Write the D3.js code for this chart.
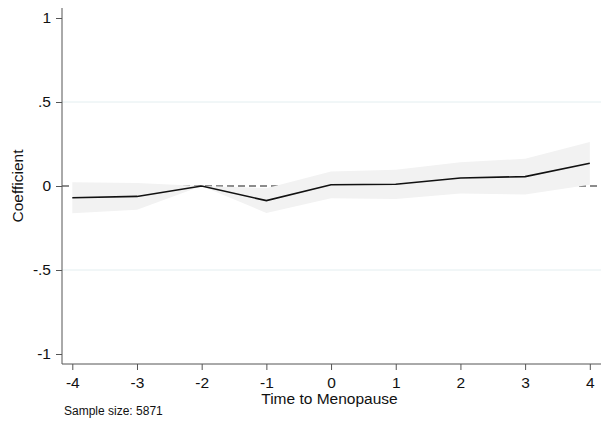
<!DOCTYPE html>
<html>
<head>
<meta charset="utf-8">
<script src="https://cdn.jsdelivr.net/npm/d3@7"></script>
<style>
  html, body { margin: 0; padding: 0; background: #fff; }
  svg { display: block; font-family: "Liberation Sans", Arial, sans-serif; }
</style>
</head>
<body>
<svg id="chart" width="601" height="432"></svg>
<script>
// Event-time coefficients relative to menopause (t = -2 is the reference period)
const periods = [-4, -3, -2, -1, 0, 1, 2, 3, 4];
const coef    = [-0.070, -0.062, 0.000, -0.087, 0.007, 0.010, 0.048, 0.056, 0.135];
const ciLow   = [-0.162, -0.142, 0.000, -0.160, -0.073, -0.077, -0.045, -0.050, 0.008];
const ciHigh  = [ 0.022,  0.018, 0.000, -0.013,  0.086,  0.096,  0.142,  0.162, 0.262];
const yTicks  = [-1, -0.5, 0, 0.5, 1];
const yTickLabels = ["-1", "-.5", "0", ".5", "1"];
const gridValues = [-0.5, 0.5];
const sampleNote = "Sample size: 5871";

const svg = d3.select("#chart");
const plotLeft = 62, plotRight = 601, plotTop = 8, plotBottom = 364;
const fontFamily = "Liberation Sans, Arial, sans-serif";
const labelSize = 15.5;

const x = d3.scaleLinear().domain([-4, 4]).range([72.3, 589.8]);
const y = d3.scaleLinear().domain([-1, 1]).range([354, 18]);

const rows = periods.map((p, i) => ({ p, b: coef[i], lo: ciLow[i], hi: ciHigh[i] }));

// horizontal grid lines
svg.append("g").selectAll("line").data(gridValues).join("line")
  .attr("x1", plotLeft).attr("x2", plotRight)
  .attr("y1", d => y(d)).attr("y2", d => y(d))
  .attr("stroke", "#e3eef0").attr("stroke-width", 1);

// zero reference line
svg.append("line")
  .attr("x1", plotLeft).attr("x2", plotRight)
  .attr("y1", y(0)).attr("y2", y(0))
  .attr("stroke", "#1a1a1a").attr("stroke-width", 1.1)
  .attr("stroke-dasharray", "7,4");

// confidence band
svg.append("path").datum(rows)
  .attr("fill", "#f2f2f2")
  .attr("d", d3.area().x(d => x(d.p)).y0(d => y(d.lo)).y1(d => y(d.hi)));

// coefficient line
svg.append("path").datum(rows)
  .attr("fill", "none").attr("stroke", "#111").attr("stroke-width", 1.6)
  .attr("d", d3.line().x(d => x(d.p)).y(d => y(d.b)));

// y axis
const yAxis = d3.axisLeft(y).tickValues(yTicks)
  .tickFormat((d, i) => yTickLabels[i]).tickSize(6).tickPadding(5);
const gy = svg.append("g").attr("transform", `translate(${plotLeft},0)`).call(yAxis);
gy.select(".domain").attr("d", `M0,${plotTop}V${plotBottom}`).attr("stroke", "#555");
gy.selectAll(".tick line").attr("stroke", "#555");
gy.selectAll(".tick text").attr("font-size", labelSize).attr("fill", "#111")
  .attr("font-family", fontFamily);

// x axis
const xAxis = d3.axisBottom(x).tickValues(periods).tickFormat(d3.format("d"))
  .tickSize(6).tickPadding(7);
const gx = svg.append("g").attr("transform", `translate(0,${plotBottom})`).call(xAxis);
gx.select(".domain").attr("d", `M${plotLeft},0H${plotRight}`).attr("stroke", "#555");
gx.selectAll(".tick line").attr("stroke", "#555");
gx.selectAll(".tick text").attr("font-size", labelSize).attr("fill", "#111")
  .attr("font-family", fontFamily)
  .text(d => d < 0 ? "-" + Math.abs(d) : String(d));

// axis titles
svg.append("text")
  .attr("transform", `translate(23,${y(0)}) rotate(-90)`)
  .attr("text-anchor", "middle").attr("font-size", labelSize).attr("fill", "#111")
  .text("Coefficient");
svg.append("text")
  .attr("x", (plotLeft + plotRight) / 2 - 2).attr("y", 404)
  .attr("text-anchor", "middle").attr("font-size", labelSize).attr("fill", "#111")
  .text("Time to Menopause");

// note
svg.append("text")
  .attr("x", 64).attr("y", 415)
  .attr("font-size", 12).attr("fill", "#111")
  .text(sampleNote);
</script>
</body>
</html>
